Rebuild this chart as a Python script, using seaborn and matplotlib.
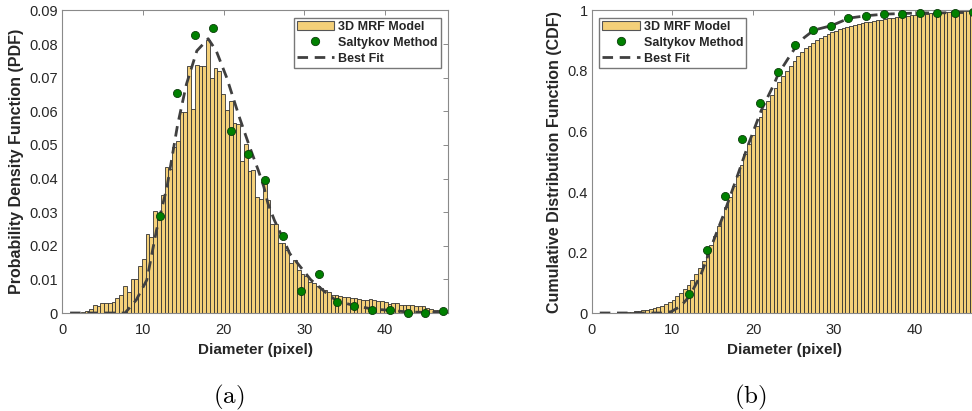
import numpy as np
import pandas as pd
import matplotlib
matplotlib.use("Agg")
import matplotlib.pyplot as plt
import seaborn as sns
from matplotlib.patches import Patch
from matplotlib.lines import Line2D

# --- data -------------------------------------------------------------------
# 3D MRF model: grain-diameter histogram, 100 bins spanning 1.0 .. 47.8 px
diam_min, diam_max, n_bins = 1.0, 47.8, 100
mrf_pdf = [
    0.0, 0.0, 0.0, 0.0002, 0.0006, 0.0011, 0.0024, 0.0022, 0.0029, 0.0029,
    0.0029, 0.0034, 0.0046, 0.0055, 0.0080, 0.0061, 0.0100, 0.0102, 0.0141, 0.0160,
    0.0234, 0.0225, 0.0304, 0.0296, 0.0352, 0.0433, 0.0427, 0.0494, 0.0512, 0.0599,
    0.0599, 0.0734, 0.0608, 0.0739, 0.0736, 0.0734, 0.0813, 0.0700, 0.0730, 0.0720,
    0.0652, 0.0603, 0.0631, 0.0565, 0.0561, 0.0453, 0.0502, 0.0421, 0.0425, 0.0345,
    0.0339, 0.0390, 0.0336, 0.0266, 0.0266, 0.0209, 0.0209, 0.0187, 0.0150, 0.0157,
    0.0128, 0.0115, 0.0111, 0.0093, 0.0088, 0.0080, 0.0073, 0.0068, 0.0063, 0.0055,
    0.0053, 0.0051, 0.0049, 0.0048, 0.0045, 0.0046, 0.0042, 0.0040, 0.0038, 0.0041,
    0.0039, 0.0036, 0.0035, 0.0033, 0.0028, 0.0029, 0.0029, 0.0023, 0.0024, 0.0023,
    0.0023, 0.0022, 0.0022, 0.0021, 0.0016, 0.0011, 0.0010, 0.0010, 0.0004, 0.0003,
]

# Saltykov unfolding (class centres)
saltykov_d = [12.1, 14.3, 16.5, 18.65, 20.9, 23.06, 25.2, 27.4, 29.6, 31.8,
              34.0, 36.2, 38.4, 40.6, 42.8, 45.0, 47.2]
saltykov_pdf = [0.0290, 0.0656, 0.0826, 0.0849, 0.0540, 0.0472, 0.0396, 0.0228,
                0.0065, 0.0116, 0.0033, 0.0022, 0.0010, 0.0010, 0.0, 0.0, 0.0006]
saltykov_cdf = [0.063, 0.208, 0.388, 0.575, 0.694, 0.796, 0.886, 0.935, 0.950,
                0.976, 0.983, 0.988, 0.990, 0.992, 0.992, 0.992, 0.994]

# best-fit distribution
fit_pdf_d = [1.0, 3.3, 5.5, 7.8, 9.2, 10.5, 11.7, 13.0, 14.3, 15.4, 16.7, 18.1,
             19.1, 20.4, 22.0, 23.3, 24.3, 25.0, 25.5, 26.3, 27.4, 28.2, 29.5,
             30.8, 32.6, 34.0, 36.2, 38.4, 40.6, 42.8, 45.0, 47.2]
fit_pdf = [0.0, 0.0, 0.0, 0.0, 0.0039, 0.0098, 0.0246, 0.0375, 0.0558, 0.0680,
           0.0780, 0.0816, 0.0780, 0.0700, 0.0580, 0.0490, 0.0425, 0.0375,
           0.0326, 0.0276, 0.0220, 0.0177, 0.0138, 0.0099, 0.0062, 0.0036,
           0.0022, 0.0012, 0.0008, 0.0003, 0.0002, 0.0002]
fit_cdf_d = [1.0, 3.3, 5.5, 7.7, 8.6, 9.8, 11.0, 12.1, 13.5, 15.1, 16.4, 18.0,
             19.3, 21.0, 22.6, 23.1, 24.7, 25.3, 26.3, 27.5, 29.7, 31.9, 34.1,
             36.3, 38.5, 40.7, 42.9, 45.1, 47.2]
fit_cdf = [0.0, 0.0, 0.0, 0.0, 0.0, 0.004, 0.022, 0.055, 0.125, 0.240, 0.330,
           0.450, 0.550, 0.670, 0.758, 0.790, 0.857, 0.880, 0.910, 0.935, 0.950,
           0.975, 0.983, 0.988, 0.990, 0.992, 0.992, 0.993, 0.994]

labels = ["3D MRF Model", "Saltykov Method", "Best Fit"]

# --- style ------------------------------------------------------------------
sns.set_style("white")
plt.rcParams["font.family"] = ["Liberation Sans", "DejaVu Sans"]
plt.rcParams["mathtext.fontset"] = "cm"

BAR_FACE = "#F4D079"
BAR_EDGE = "#333333"
DOT_FACE = "#008000"
DOT_EDGE = "#0b3d0b"
FIT_COL = "#404040"
TXT = "#262626"
SPINE = "#8a8a8a"
DASH = (0, (3.8, 2.4))

edges = np.linspace(diam_min, diam_max, n_bins + 1)
hist_df = pd.DataFrame({
    "diameter": 0.5 * (edges[:-1] + edges[1:]),
    "density": mrf_pdf,
})
salt_df = pd.DataFrame({"d": saltykov_d, "pdf": saltykov_pdf, "cdf": saltykov_cdf})
fit_pdf_df = pd.DataFrame({"d": fit_pdf_d, "v": fit_pdf})
fit_cdf_df = pd.DataFrame({"d": fit_cdf_d, "v": fit_cdf})

fig = plt.figure(figsize=(9.72, 4.11), dpi=100)
ax_a = fig.add_axes([62 / 972, 98 / 411, 386 / 972, 302.5 / 411])
ax_b = fig.add_axes([591.7 / 972, 98 / 411, 386 / 972, 302.5 / 411])


def style_axes(ax):
    for s in ax.spines.values():
        s.set_color(SPINE)
        s.set_linewidth(0.8)
    ax.tick_params(direction="in", top=True, right=True, length=3.5,
                   width=0.7, color=SPINE, labelsize=10.5, labelcolor=TXT)
    ax.tick_params(axis="x", pad=7.5)
    ax.tick_params(axis="y", pad=3)
    ax.set_xlim(0, diam_max)
    ax.set_xticks([0, 10, 20, 30, 40])
    ax.set_xlabel("Diameter (pixel)", fontsize=11, fontweight="bold",
                  color=TXT, labelpad=4)


def legend_handles():
    return [
        Patch(facecolor=BAR_FACE, edgecolor="#555555", linewidth=0.8),
        Line2D([], [], ls="none", marker="o", ms=6, mfc=DOT_FACE,
               mec=DOT_EDGE, mew=0.6),
        Line2D([], [], color=FIT_COL, lw=2.0, ls=DASH),
    ]


def add_legend(ax, loc):
    ax.legend(legend_handles(), labels, loc=loc, frameon=True,
              fancybox=False, edgecolor="#777777", framealpha=1,
              prop={"weight": "bold", "size": 9}, handlelength=3.0,
              handletextpad=0.3, labelspacing=0.3, borderpad=0.25,
              borderaxespad=0.6)


# --- (a) probability density ------------------------------------------------
sns.histplot(data=hist_df, x="diameter", weights="density", bins=list(edges),
             stat="count", color=BAR_FACE, edgecolor=BAR_EDGE, linewidth=0.6,
             alpha=1.0, ax=ax_a)
sns.lineplot(data=fit_pdf_df, x="d", y="v", color=FIT_COL, linewidth=2.0,
             linestyle=DASH, ax=ax_a, zorder=3)
sns.scatterplot(data=salt_df, x="d", y="pdf", s=34, color=DOT_FACE,
                edgecolor=DOT_EDGE, linewidth=0.6, ax=ax_a, zorder=4,
                clip_on=False)
style_axes(ax_a)
ax_a.set_ylim(0, 0.09)
yt = np.round(np.arange(0, 0.0901, 0.01), 2)
ax_a.set_yticks(yt)
ax_a.set_yticklabels(["0"] + [f"{v:g}" for v in yt[1:]])
ax_a.set_ylabel("Probability Density Function (PDF)", fontsize=11.5,
                fontweight="bold", color=TXT, labelpad=4)
add_legend(ax_a, "upper right")

# --- (b) cumulative distribution --------------------------------------------
sns.histplot(data=hist_df, x="diameter", weights="density", bins=list(edges),
             stat="density", cumulative=True, color=BAR_FACE,
             edgecolor=BAR_EDGE, linewidth=0.6, alpha=1.0, ax=ax_b)
sns.lineplot(data=fit_cdf_df, x="d", y="v", color=FIT_COL, linewidth=2.0,
             linestyle=DASH, ax=ax_b, zorder=3)
sns.scatterplot(data=salt_df, x="d", y="cdf", s=34, color=DOT_FACE,
                edgecolor=DOT_EDGE, linewidth=0.6, ax=ax_b, zorder=4,
                clip_on=False)
style_axes(ax_b)
ax_b.set_ylim(0, 1)
ax_b.set_yticks([0, 0.2, 0.4, 0.6, 0.8, 1.0])
ax_b.set_yticklabels(["0", "0.2", "0.4", "0.6", "0.8", "1"])
ax_b.set_ylabel("Cumulative Distribution Function (CDF)", fontsize=11.5,
                fontweight="bold", color=TXT, labelpad=4)
add_legend(ax_b, "upper left")

# sub-figure captions
fig.text(229 / 972, 14 / 411, r"$\mathrm{(a)}$", fontsize=18, ha="center",
         va="center", color="black")
fig.text(750 / 972, 14 / 411, r"$\mathrm{(b)}$", fontsize=18, ha="center",
         va="center", color="black")

fig.savefig("out.png", dpi=100)
